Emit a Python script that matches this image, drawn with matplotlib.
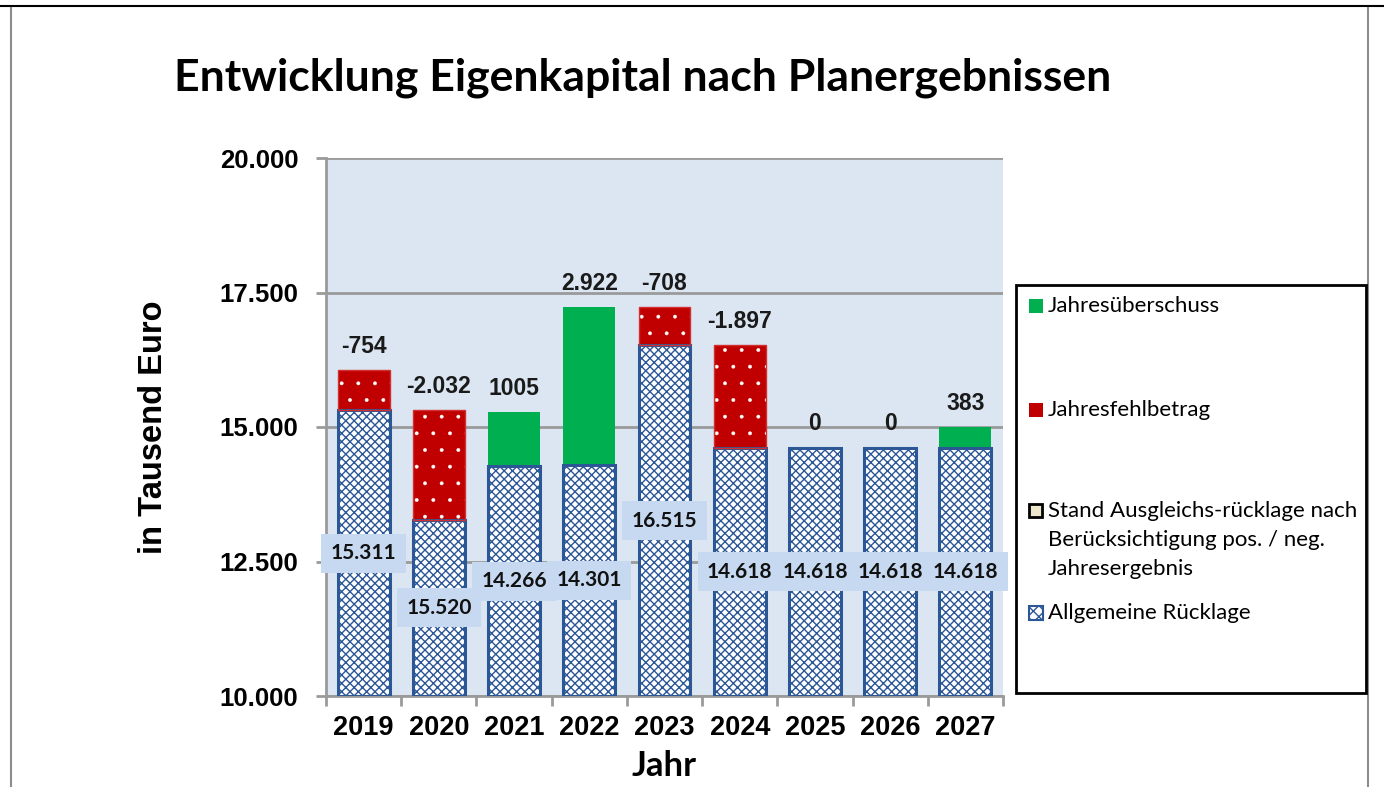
import matplotlib
matplotlib.use("Agg")
import matplotlib.pyplot as plt
from matplotlib.patches import Rectangle
from matplotlib.lines import Line2D
from matplotlib.ticker import FuncFormatter, FixedLocator

# ---------------- data ----------------
years = ["2019", "2020", "2021", "2022", "2023", "2024", "2025", "2026", "2027"]
allgemeine_ruecklage = [15311, 13279, 14266, 14301, 16515, 14618, 14618, 14618, 14618]
jahresergebnis = [-754, -2032, 1005, 2922, -708, -1897, 0, 0, 383]
base_labels = ["15.311", "15.520", "14.266", "14.301", "16.515", "14.618", "14.618", "14.618", "14.618"]
top_labels = ["-754", "-2.032", "1005", "2.922", "-708", "-1.897", "0", "0", "383"]
y_ticks = [10000, 12500, 15000, 17500, 20000]
legend_labels = ["Jahresüberschuss", "Jahresfehlbetrag",
                 "Stand Ausgleichs-rücklage nach\nBerücksichtigung pos. / neg.\nJahresergebnis",
                 "Allgemeine Rücklage"]

# ---------------- style ----------------
W, H = 1384, 787
fig = plt.figure(figsize=(W / 100, H / 100), dpi=100)
ARIAL = "Liberation Sans"
CAL = "Lato"

ax = fig.add_axes([326 / W, 1 - 696 / H, (1003 - 326) / W, (696 - 158) / H])
ax.set_facecolor("#DCE6F2")
ax.set_xlim(-0.5, len(years) - 0.5)
ax.set_ylim(10000, 20000)

BLUE = "#2B5797"
RED = "#C00000"
GREEN = "#00B050"
width = 0.69
x = list(range(len(years)))

# base segment (hatched)
plt.rcParams["hatch.linewidth"] = 1.0
ax.bar(x, [b - 10000 for b in allgemeine_ruecklage], width, bottom=10000,
       facecolor="white", edgecolor=BLUE, hatch="xxxx", linewidth=0, zorder=3)
ax.bar(x, [b - 10000 for b in allgemeine_ruecklage], width, bottom=10000,
       fill=False, edgecolor=BLUE, linewidth=2.2, zorder=4)

# result segment
plt.rcParams["hatch.linewidth"] = 0.3
tops = []
for i, (b, v) in enumerate(zip(allgemeine_ruecklage, jahresergebnis)):
    h = abs(v)
    tops.append(b + h)
    if h == 0:
        continue
    if v < 0:
        ax.bar(i, h, width, bottom=b, facecolor=RED, edgecolor="white",
               hatch=".", linewidth=0, zorder=3)
        ax.bar(i, h, width, bottom=b, fill=False, edgecolor="#D03030",
               linewidth=1.0, zorder=4)
    else:
        ax.bar(i, h, width, bottom=b, facecolor=GREEN, edgecolor=GREEN,
               linewidth=0, zorder=3)
plt.rcParams["hatch.linewidth"] = 1.0

# labels
for i in x:
    ax.annotate(top_labels[i], (i, tops[i]), xytext=(0, 17), textcoords="offset points",
                ha="center", va="center", fontsize=16.5, fontweight="bold",
                family=ARIAL, color="#1a1a1a", zorder=6)
    ax.text(i, (10000 + allgemeine_ruecklage[i]) / 2, base_labels[i],
            ha="center", va="center", fontsize=15, fontweight="bold",
            family=CAL, color="#111111", zorder=6,
            bbox=dict(boxstyle="square,pad=0.45", facecolor="#C6D9F1", edgecolor="none"))

# grid and axes
ax.yaxis.set_major_locator(FixedLocator(y_ticks))
ax.yaxis.set_major_formatter(FuncFormatter(lambda v, p: f"{int(v):,}".replace(",", ".")))
ax.grid(axis="y", color="#9A9A9A", linewidth=2, zorder=1)
ax.set_axisbelow(True)
ax.set_xticks(x)
ax.set_xticklabels(years)
ax.xaxis.set_minor_locator(FixedLocator([i - 0.5 for i in range(len(years) + 1)]))
ax.tick_params(axis="x", which="major", length=0, pad=14)
ax.tick_params(axis="x", which="minor", length=7, width=2, color="#9A9A9A")
ax.tick_params(axis="y", length=7, width=2, color="#9A9A9A", pad=13)
for lab in ax.get_xticklabels():
    lab.set_fontsize(19.5)
    lab.set_fontweight("bold")
    lab.set_family(ARIAL)
for lab in ax.get_yticklabels():
    lab.set_fontsize(18.5)
    lab.set_fontweight("bold")
    lab.set_family(ARIAL)
for s in ["top", "right"]:
    ax.spines[s].set_visible(False)
for s in ["left", "bottom"]:
    ax.spines[s].set_color("#9A9A9A")
    ax.spines[s].set_linewidth(2)

ax.set_xlabel("Jahr", fontsize=25, fontweight="bold", family=CAL)
ax.xaxis.set_label_coords(0.5, (696 - 766) / 538)
ax.xaxis.label.set_va("center")
ax.set_ylabel("in Tausend Euro", fontsize=23.5, fontweight="bold", family=ARIAL, labelpad=36)

# title
fig.text(643 / W, 1 - 78 / H, "Entwicklung Eigenkapital nach Planergebnissen",
         ha="center", va="center", fontsize=32, fontweight="bold", family=CAL)

# legend (manual)
fig.patches.append(Rectangle((1016 / W, 1 - 693 / H), (1366 - 1016) / W, (693 - 285) / H,
                             transform=fig.transFigure, facecolor="white",
                             edgecolor="black", linewidth=2, zorder=5))
leg_y = [306, 410, 511, 613]
leg_face = [GREEN, RED, "#EEE7CC", "white"]
for j, (yy, lab) in enumerate(zip(leg_y, legend_labels)):
    if j == 2:
        rect = Rectangle((1029 / W, 1 - (yy + 6) / H), 13 / W, 13 / H, transform=fig.transFigure,
                         facecolor=leg_face[j], edgecolor="black", linewidth=2, zorder=6)
        fig.text(1048 / W, 1 - (yy - 10) / H, lab, ha="left", va="top",
                 fontsize=16, family=CAL, linespacing=1.56, zorder=7)
    else:
        if j == 3:
            rect = Rectangle((1029 / W, 1 - (yy + 7) / H), 14 / W, 14 / H, transform=fig.transFigure,
                             facecolor="white", edgecolor=BLUE, hatch="xxx", linewidth=1.5, zorder=6)
        else:
            rect = Rectangle((1029 / W, 1 - (yy + 7) / H), 14 / W, 14 / H, transform=fig.transFigure,
                             facecolor=leg_face[j], edgecolor=leg_face[j], linewidth=0, zorder=6)
        fig.text(1048 / W, 1 - yy / H, lab, ha="left", va="center",
                 fontsize=16, family=CAL, zorder=7)
    fig.patches.append(rect)

# figure border
fig.add_artist(Line2D([0, 1], [1 - 6 / H, 1 - 6 / H], color="black", linewidth=1.5,
                      transform=fig.transFigure))
fig.add_artist(Line2D([11 / W, 11 / W], [0, 1 - 8 / H], color="#8C8C8C", linewidth=1.5,
                      transform=fig.transFigure))
fig.add_artist(Line2D([1368 / W, 1368 / W], [0, 1 - 8 / H], color="#8C8C8C", linewidth=1.5,
                      transform=fig.transFigure))

fig.savefig("out.png", dpi=100, facecolor="white")
